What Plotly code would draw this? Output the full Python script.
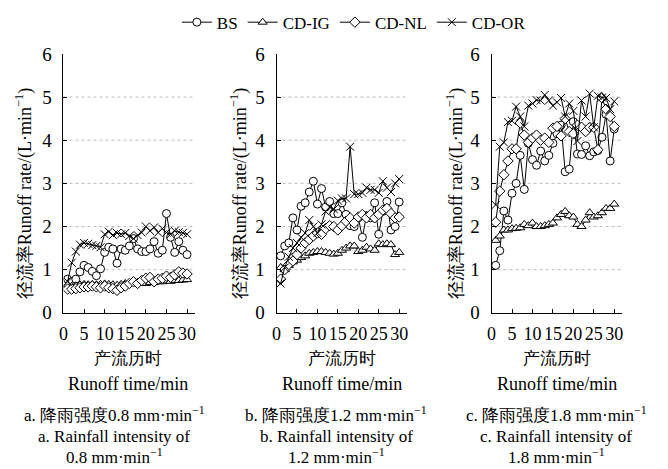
import plotly.graph_objects as go

# ---------------- data ----------------
t = list(range(1, 31))

# panel a: rainfall 0.8 mm/min
a_BS = [0.78, 0.72, 0.78, 0.95, 1.1, 1.05, 0.96, 0.86, 1.02, 1.4, 1.52, 1.48, 1.15, 1.48, 1.45, 1.55, 1.72, 1.48,
        1.42, 1.42, 1.48, 1.65, 1.38, 1.45, 2.3, 1.75, 1.4, 1.65, 1.45, 1.35]
a_IG = [0.65, 0.62, 0.63, 0.65, 0.66, 0.65, 0.66, 0.65, 0.66, 0.67, 0.66, 0.65, 0.64, 0.66, 0.68, 0.68, 0.7, 0.7,
        0.7, 0.68, 0.7, 0.7, 0.72, 0.72, 0.74, 0.73, 0.75, 0.75, 0.76, 0.77]
a_NL = [0.55, 0.55, 0.56, 0.58, 0.6, 0.6, 0.62, 0.6, 0.58, 0.62, 0.58, 0.56, 0.52, 0.58, 0.62, 0.68, 0.72, 0.68,
        0.75, 0.8, 0.82, 0.72, 0.78, 0.8, 0.85, 0.82, 0.88, 0.95, 0.92, 0.9]
a_OR = [0.72, 1.16, 1.42, 1.58, 1.62, 1.6, 1.57, 1.55, 1.52, 1.82, 1.88, 1.8, 1.85, 1.82, 1.85, 1.78, 1.72, 1.8,
        1.86, 2.0, 1.9, 1.98, 1.86, 1.95, 1.86, 1.82, 1.9, 1.87, 1.85, 1.82]

# panel b: rainfall 1.2 mm/min
b_BS = [1.32, 1.55, 1.62, 2.2, 1.92, 2.47, 2.55, 2.8, 3.05, 2.52, 2.88, 2.45, 2.58, 2.3, 2.3, 2.55, 2.28, 2.02,
        2.0, 2.2, 1.75, 2.25, 2.2, 2.55, 1.82, 2.35, 2.58, 1.92, 2.0, 2.57]
b_IG = [1.05, 1.0, 1.1, 1.18, 1.22, 1.28, 1.32, 1.38, 1.4, 1.42, 1.42, 1.4, 1.38, 1.36, 1.38, 1.45, 1.5, 1.55,
        1.55, 1.42, 1.45, 1.52, 1.48, 1.45, 1.6, 1.58, 1.6, 1.58, 1.35, 1.4]
b_NL = [0.78, 1.0, 1.12, 1.2, 1.35, 1.5, 1.62, 1.7, 1.78, 1.85, 1.82, 1.95, 2.02, 2.0, 1.92, 2.02, 2.12, 2.2,
        2.08, 2.22, 2.28, 2.2, 2.28, 2.2, 2.28, 2.38, 2.42, 2.3, 2.2, 2.22]
b_OR = [0.68, 1.05, 1.3, 1.5, 1.62, 1.75, 1.85, 2.15, 2.0, 1.85, 2.05, 2.35, 2.45, 2.4, 2.6, 2.65, 2.65, 3.85,
        2.75, 2.75, 2.78, 2.9, 2.85, 2.85, 2.78, 3.05, 2.9, 2.8, 3.0, 3.1]

# panel c: rainfall 1.8 mm/min
c_BS = [1.1, 1.44, 2.36, 2.15, 2.77, 3.0, 3.65, 2.86, 3.93, 3.55, 3.42, 3.75, 3.52, 3.65, 3.93, 4.15, 4.35, 3.27,
        3.33, 4.43, 3.68, 3.67, 3.87, 3.64, 3.73, 3.76, 4.07, 4.6, 3.52, 4.26]
c_IG = [1.68, 1.78, 1.92, 1.92, 1.95, 1.96, 1.97, 2.05, 2.02, 2.08, 2.0, 2.0, 2.02, 2.05, 2.08, 2.2, 2.28, 2.35,
        2.25, 2.22, 2.05, 2.0, 2.15, 2.32, 2.22, 2.25, 2.32, 2.42, 2.42, 2.52]
c_NL = [2.1, 2.82, 3.2, 3.52, 3.8, 3.8, 4.4, 4.12, 3.95, 4.05, 4.12, 4.0, 4.05, 3.95, 4.28, 4.32, 4.1, 4.5,
        4.2, 4.15, 4.35, 4.3, 4.2, 4.3, 4.3, 3.78, 4.98, 4.72, 4.55, 4.32]
c_OR = [2.5, 3.85, 3.95, 4.42, 4.45, 4.78, 4.55, 4.32, 4.8, 4.85, 4.93, 4.92, 5.05, 4.92, 4.8, 4.88, 4.98, 4.55,
        4.85, 4.68, 3.98, 4.92, 4.55, 5.08, 4.3, 5.03, 4.99, 4.98, 4.72, 4.9]

series_names = ["BS", "CD-IG", "CD-NL", "CD-OR"]
panels = [[a_BS, a_IG, a_NL, a_OR], [b_BS, b_IG, b_NL, b_OR], [c_BS, c_IG, c_NL, c_OR]]
captions = [
    ("a. 降雨强度0.8 mm·min<sup>−1</sup>", "a. Rainfall intensity of", "0.8 mm·min<sup>−1</sup>"),
    ("b. 降雨强度1.2 mm·min<sup>−1</sup>", "b. Rainfall intensity of", "1.2 mm·min<sup>−1</sup>"),
    ("c. 降雨强度1.8 mm·min<sup>−1</sup>", "c. Rainfall intensity of", "1.8 mm·min<sup>−1</sup>"),
]
x_ticks = [0, 5, 10, 15, 20, 25, 30]
y_ticks = [0, 1, 2, 3, 4, 5, 6]

# ---------------- styling ----------------
W, H = 668, 469
FONT = "Liberation Serif"
symbols = ["circle", "triangle-up", "diamond", "x-thin"]
sizes = [8, 8, 8, 8]

x_doms = [(59 / W, 192 / W), (274 / W, 406 / W), (491 / W, 623 / W)]
y_dom = (1 - 317 / H, 1 - 46 / H)
x_centers = [124, 340, 557]
cap_centers = [110, 334, 556]
ytitle_x = [20, 237, 455]

fig = go.Figure()
for p, data in enumerate(panels):
    xa = "x" if p == 0 else f"x{p+1}"
    ya = "y" if p == 0 else f"y{p+1}"
    for s, vals in enumerate(data):
        is_x = symbols[s] == "x-thin"
        fig.add_trace(go.Scatter(
            x=t, y=vals, mode="lines+markers", name=series_names[s],
            legendgroup=series_names[s], showlegend=(p == 0),
            line=dict(color="black", width=1),
            marker=dict(symbol=symbols[s], size=sizes[s],
                        color="black" if is_x else "white",
                        line=dict(color="black", width=1)),
            xaxis=xa, yaxis=ya,
        ))

layout = dict(
    width=W, height=H,
    margin=dict(l=0, r=0, t=0, b=0),
    paper_bgcolor="white", plot_bgcolor="white",
    font=dict(family=FONT, size=17, color="black"),
    showlegend=True,
    legend=dict(orientation="h", x=0.527, xanchor="center", y=1.012, yanchor="top",
                font=dict(size=17, family=FONT, color="black"), itemwidth=30, tracegroupgap=0,
                bgcolor="rgba(0,0,0,0)"),
)
shapes = []
annotations = []
for p in range(3):
    suf = "" if p == 0 else str(p + 1)
    layout["xaxis" + suf] = dict(
        domain=list(x_doms[p]), range=[0, 32], anchor="y" + suf,
        tickvals=x_ticks, ticktext=[str(v) for v in x_ticks],
        ticks="inside", ticklen=4, tickcolor="black",
        showline=True, linecolor="black", linewidth=1,
        showgrid=False, zeroline=False, ticklabelstandoff=5,
        tickfont=dict(size=18, family=FONT, color="black"),
    )
    layout["yaxis" + suf] = dict(
        domain=list(y_dom), range=[0, 6], anchor="x" + suf,
        tickvals=y_ticks, ticks="inside", ticklen=4, tickcolor="black",
        showline=True, linecolor="black", linewidth=1,
        showgrid=False, zeroline=False, ticklabelstandoff=7,
        tickfont=dict(size=19, family=FONT, color="black"),
    )
    for g in [1, 2, 3, 4, 5]:
        shapes.append(dict(type="line", xref=f"x{suf} domain", yref="y" + suf,
                           x0=0, x1=1, y0=g, y1=g, layer="below",
                           line=dict(color="#bbbbbb", width=1, dash="dot")))
    # y-axis title
    annotations.append(dict(
        text="径流率Runoff rate/(L·min<sup>−1</sup>)", textangle=-90,
        x=ytitle_x[p] / W, y=1 - 192 / H, xref="paper", yref="paper",
        xanchor="center", yanchor="middle", showarrow=False,
        font=dict(size=18, family=FONT, color="black")))
    # x-axis titles
    annotations.append(dict(text="产流历时", x=x_centers[p] / W, y=1 - 365 / H,
                            xref="paper", yref="paper", showarrow=False,
                            xanchor="center", yanchor="middle",
                            font=dict(size=17, family=FONT, color="black")))
    annotations.append(dict(text="Runoff time/min", x=x_centers[p] / W, y=1 - 392 / H,
                            xref="paper", yref="paper", showarrow=False,
                            xanchor="center", yanchor="middle",
                            font=dict(size=18, family=FONT, color="black")))
    # captions
    for k, yy in enumerate([423, 446, 467]):
        annotations.append(dict(text=captions[p][k], x=cap_centers[p] / W, y=1 - yy / H,
                                xref="paper", yref="paper", showarrow=False,
                                xanchor="center", yanchor="middle",
                                font=dict(size=17, family=FONT, color="black")))

fig.update_layout(**layout)
for s in shapes:
    fig.add_shape(**s)
for a in annotations:
    fig.add_annotation(**a)
fig.write_html("out.html")
